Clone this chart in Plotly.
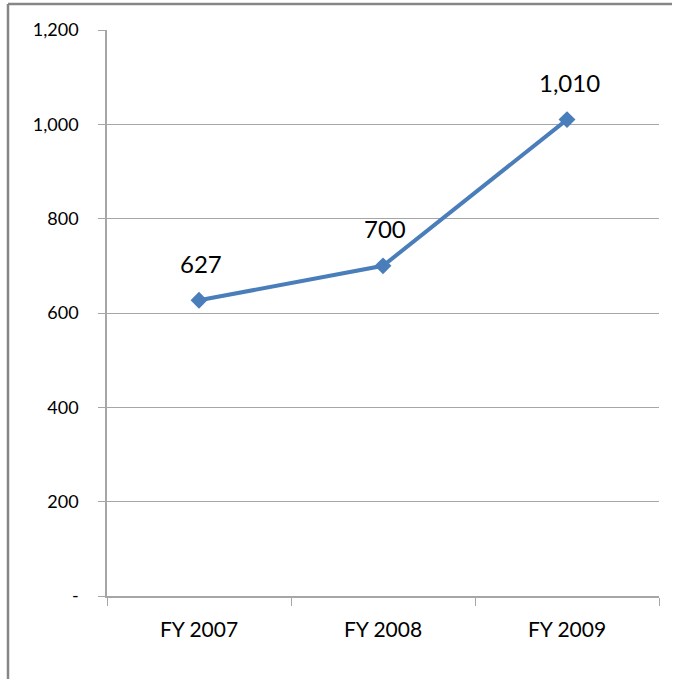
import plotly.graph_objects as go

categories = ["FY 2007", "FY 2008", "FY 2009"]
values = [627, 700, 1010]
value_labels = ["627", "700", "1,010"]
y_tickvals = [0, 200, 400, 600, 800, 1000, 1200]
y_ticktext = ["-", "200", "400", "600", "800", "1,000", "1,200"]

W, H = 676, 679
L, R, T, B = 107, 17, 30, 83
pw, ph = W - L - R, H - T - B

def px_x(p):
    return (p - L) / pw

def px_y(p):
    return (H - B - p) / ph

FONT = "Lato"
line_col = "#4A7EBB"
grid_col = "#A6A6A6"

fig = go.Figure()
fig.add_trace(go.Scatter(
    x=categories, y=values, mode="lines+markers",
    line=dict(color=line_col, width=4),
    marker=dict(symbol="diamond", size=13, color=line_col),
    hoverinfo="skip", showlegend=False,
))

for c, v, t in zip(categories, values, value_labels):
    fig.add_annotation(x=c, y=v, text=t, showarrow=False, xshift=2, yshift=37,
                       yanchor="middle", font=dict(family=FONT, size=24, color="#000000"))

# outer chart border (top and left visible)
border = "#868686"
fig.add_shape(type="line", xref="paper", yref="paper",
              x0=px_x(8), x1=px_x(672), y0=px_y(4), y1=px_y(4),
              line=dict(color=border, width=2.5))
fig.add_shape(type="line", xref="paper", yref="paper",
              x0=px_x(8), x1=px_x(8), y0=px_y(4), y1=px_y(681),
              line=dict(color=border, width=2.5))

fig.update_layout(
    width=W, height=H,
    margin=dict(l=L, r=R, t=T, b=B, pad=0),
    paper_bgcolor="white", plot_bgcolor="white",
    font=dict(family=FONT, color="#000000"),
    xaxis=dict(
        type="category", range=[-0.5, 2.5],
        showgrid=False, showline=True, linecolor=grid_col, linewidth=1.5,
        ticks="outside", tickson="boundaries", ticklen=8, tickcolor=grid_col, tickwidth=1,
        tickfont=dict(family=FONT, size=21, color="#000000"),
        ticklabelstandoff=14,
        zeroline=False,
    ),
    yaxis=dict(
        range=[0, 1200], tickvals=y_tickvals, ticktext=y_ticktext,
        showgrid=True, gridcolor=grid_col, gridwidth=1,
        showline=True, linecolor=grid_col, linewidth=1.5,
        ticks="outside", ticklen=7, tickcolor=grid_col, tickwidth=1,
        tickfont=dict(family=FONT, size=18, color="#000000"),
        ticklabelstandoff=16,
        zeroline=False,
    ),
)

fig.write_html("out.html", config={"displayModeBar": False},
               post_script="document.body.style.margin='0';document.body.style.overflow='hidden';")
